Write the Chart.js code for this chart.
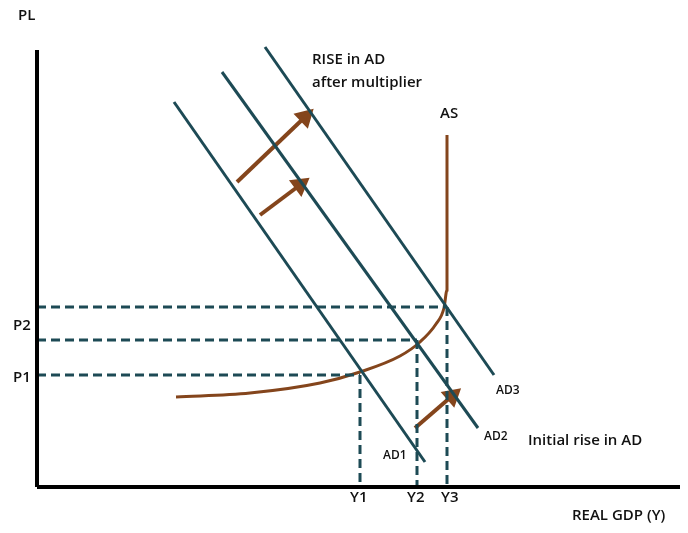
<!DOCTYPE html>
<html>
<head>
<meta charset="utf-8">
<script src="https://cdn.jsdelivr.net/npm/chart.js@4"></script>
<style>
  html, body { margin: 0; padding: 0; background: #fff; }
  #wrap { width: 688px; height: 533px; }
</style>
</head>
<body>
<div id="wrap"><canvas id="chart"></canvas></div>
<script>
// coordinates in diagram units (x right, y down), 688 x 533 plane
const yAxis = [[37, 50], [37, 487]];
const xAxis = [[37, 487], [680, 487]];
const ad1 = [[174, 102], [425, 462]];
const ad2 = [[222, 72], [478, 428]];
const ad3 = [[265, 47], [494, 375]];
const asCurve = [[176, 397], [250, 393], [320, 383], [360, 372], [400, 356], [420, 342], [436, 324], [444, 308], [447, 290], [447, 135]];
const dashH = [[[37, 375], [360, 375]], [[37, 340], [417, 340]], [[37, 307], [447, 307]]];
const dashV = [[[360, 375], [360, 487]], [[417, 340], [417, 487]], [[447, 307], [447, 487]]];
const arrows = [[[237, 182], [305, 117]], [[260, 215], [300, 185]], [[415, 428], [452, 396]]];
const labels = [
  ['PL', 18, 20], ['RISE in AD', 312, 64], ['after multiplier', 312, 87], ['AS', 440, 118],
  ['P2', 13, 330], ['P1', 13, 382], ['AD3', 496, 394], ['AD2', 484, 440],
  ['Initial rise in AD', 528, 445], ['AD1', 383, 459], ['Y1', 350, 502],
  ['Y2', 407, 502], ['Y3', 441, 502], ['REAL GDP (Y)', 572, 520]
];

const teal = '#1d4a55';
const brown = '#84451c';
const pts = a => a.map(p => ({ x: p[0], y: p[1] }));

const datasets = [];
datasets.push({ data: pts(yAxis), borderColor: '#000', borderWidth: 4 });
datasets.push({ data: pts(xAxis), borderColor: '#000', borderWidth: 4 });
dashH.concat(dashV).forEach(l => datasets.push({ data: pts(l), borderColor: teal, borderWidth: 3, borderDash: [9, 5] }));
[ad1, ad2, ad3].forEach(l => datasets.push({ data: pts(l), borderColor: teal, borderWidth: 3 }));
datasets.push({ data: pts(asCurve), borderColor: brown, borderWidth: 3, cubicInterpolationMode: 'monotone' });
arrows.forEach(a => {
  const dx = a[1][0] - a[0][0], dy = a[1][1] - a[0][1];
  const rot = Math.atan2(dx, -dy) * 180 / Math.PI;
  datasets.push({
    data: pts(a), borderColor: brown, borderWidth: 4,
    pointStyle: 'triangle', pointRadius: [0, 8], pointRotation: rot,
    pointBackgroundColor: brown, pointBorderColor: brown
  });
});
datasets.forEach(d => { if (d.pointRadius === undefined) d.pointRadius = 0; d.fill = false; });

const textPlugin = {
  id: 'texts',
  afterDatasetsDraw(chart) {
    const { ctx, scales } = chart;
    ctx.save();
    ctx.fillStyle = '#111';
    ctx.textBaseline = 'alphabetic';
    labels.forEach(l => {
      const small = l[0].startsWith('AD') && l[0].length === 3;
      ctx.font = '600 ' + (small ? '12px' : '15px') + ' "Open Sans", sans-serif';
      ctx.fillText(l[0], scales.x.getPixelForValue(l[1]), scales.y.getPixelForValue(l[2]));
    });
    ctx.restore();
  }
};

new Chart(document.getElementById('chart'), {
  type: 'line',
  data: { datasets },
  options: {
    responsive: true,
    maintainAspectRatio: false,
    animation: false,
    layout: { padding: 0, autoPadding: false },
    clip: false,
    plugins: { legend: { display: false }, tooltip: { enabled: false } },
    scales: {
      x: { type: 'linear', min: 0, max: 688, display: false },
      y: { type: 'linear', min: 0, max: 533, reverse: true, display: false }
    }
  },
  plugins: [textPlugin]
});
</script>
</body>
</html>
